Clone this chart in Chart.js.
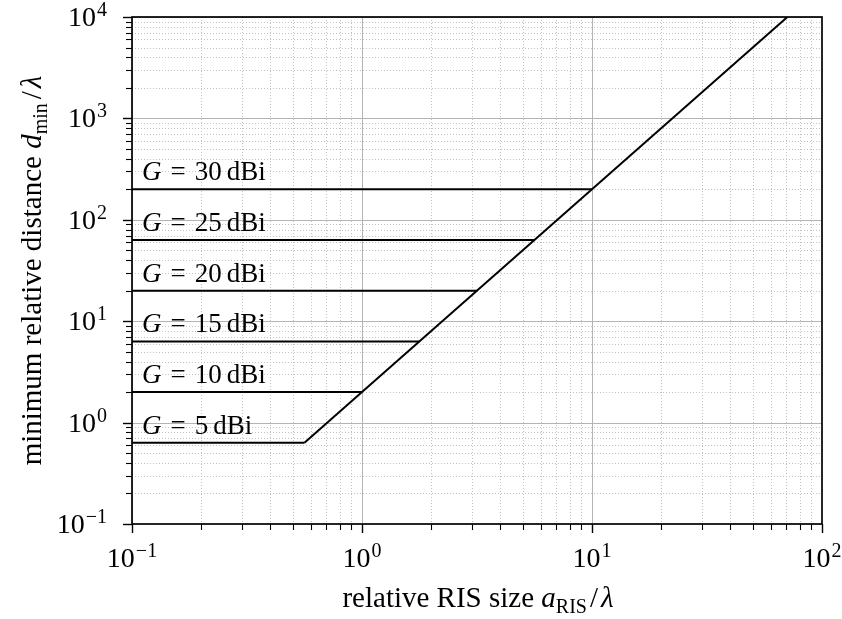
<!DOCTYPE html>
<html>
<head>
<meta charset="utf-8">
<script src="https://cdn.jsdelivr.net/npm/chart.js@4"></script>
<style>
  html, body { margin: 0; padding: 0; background: #fff; }
  #wrap { width: 842px; height: 619px; position: relative; }
</style>
</head>
<body>
<div id="wrap"><canvas id="plot"></canvas></div>
<script>
// gain steps and the distance at which each horizontal limit sits
const gainDbi = [5, 10, 15, 20, 25, 30];
const dMin = [0.632, 2, 6.32, 20, 63.2, 200];
// RIS size where each horizontal limit meets the sloped limit
const aCross = [0.562, 1, 1.78, 3.16, 5.62, 10];
const aStart = 0.1;
// sloped far-field limit (straight on log-log axes)
const slopeA = [0.562, 70.7];
const slopeD = [0.632, 10000];
// axis decades
const xTickExp = [-1, 0, 1, 2];
const yTickExp = [-1, 0, 1, 2, 3, 4];

const SERIF = '"Liberation Serif", "Times New Roman", serif';

function decadeTicks(min, max) {
  const out = [];
  const e0 = Math.floor(Math.log10(min) + 1e-9);
  const e1 = Math.ceil(Math.log10(max) - 1e-9);
  for (let e = e0; e <= e1; e++) {
    for (let m = 1; m < 10; m++) {
      const v = m * Math.pow(10, e);
      if (v >= min * 0.999 && v <= max * 1.001) out.push({ v: v, major: m === 1 });
    }
  }
  return out;
}

// draw a row of text pieces, each with its own font and vertical shift
function drawRuns(ctx, runs, x, y, align) {
  let total = 0;
  runs.forEach(r => {
    ctx.font = r.font;
    r.w = ctx.measureText(r.text).width;
    total += r.w + (r.gap || 0);
  });
  let cx = align === 'center' ? x - total / 2 : (align === 'right' ? x - total : x);
  ctx.textAlign = 'left';
  ctx.textBaseline = 'alphabetic';
  runs.forEach(r => {
    ctx.font = r.font;
    ctx.fillText(r.text, cx, y + (r.dy || 0));
    cx += r.w + (r.gap || 0);
  });
}

function powLabel(ctx, exp, x, y, align) {
  const sup = exp < 0 ? '\u2212' + (-exp) : String(exp);
  drawRuns(ctx, [
    { text: '10', font: '28px ' + SERIF, gap: 1 },
    { text: sup, font: '20px ' + SERIF, dy: -10 }
  ], x, y, align);
}

const axesPlugin = {
  id: 'axesPlugin',
  beforeDatasetsDraw(chart) {
    const { ctx, chartArea: a, scales: { x, y } } = chart;
    ctx.save();
    ctx.beginPath();
    ctx.rect(a.left, a.top, a.right - a.left, a.bottom - a.top);
    ctx.clip();
    ctx.lineWidth = 1;
    // minor grid first, dotted
    ctx.strokeStyle = '#c2c2c2';
    ctx.setLineDash([1, 2]);
    decadeTicks(x.min, x.max).filter(t => !t.major).forEach(t => {
      const px = Math.round(x.getPixelForValue(t.v)) + 0.5;
      ctx.beginPath(); ctx.moveTo(px, a.top); ctx.lineTo(px, a.bottom); ctx.stroke();
    });
    decadeTicks(y.min, y.max).filter(t => !t.major).forEach(t => {
      const py = Math.round(y.getPixelForValue(t.v)) + 0.5;
      ctx.beginPath(); ctx.moveTo(a.left, py); ctx.lineTo(a.right, py); ctx.stroke();
    });
    // major grid, solid
    ctx.setLineDash([]);
    ctx.strokeStyle = '#b4b4b4';
    decadeTicks(x.min, x.max).filter(t => t.major).forEach(t => {
      const px = Math.round(x.getPixelForValue(t.v)) + 0.5;
      ctx.beginPath(); ctx.moveTo(px, a.top); ctx.lineTo(px, a.bottom); ctx.stroke();
    });
    decadeTicks(y.min, y.max).filter(t => t.major).forEach(t => {
      const py = Math.round(y.getPixelForValue(t.v)) + 0.5;
      ctx.beginPath(); ctx.moveTo(a.left, py); ctx.lineTo(a.right, py); ctx.stroke();
    });
    ctx.restore();
  },
  afterDatasetsDraw(chart) {
    const { ctx, chartArea: a, scales: { x, y } } = chart;
    ctx.save();
    ctx.fillStyle = '#000';
    ctx.strokeStyle = '#000';

    // frame
    ctx.lineWidth = 1.7;
    ctx.strokeRect(a.left, a.top, a.right - a.left, a.bottom - a.top);

    // outward ticks
    decadeTicks(x.min, x.max).forEach(t => {
      const px = Math.round(x.getPixelForValue(t.v)) + 0.5;
      ctx.lineWidth = t.major ? 1.4 : 1.1;
      ctx.beginPath(); ctx.moveTo(px, a.bottom); ctx.lineTo(px, a.bottom + (t.major ? 9 : 6)); ctx.stroke();
    });
    decadeTicks(y.min, y.max).forEach(t => {
      const py = Math.round(y.getPixelForValue(t.v)) + 0.5;
      ctx.lineWidth = t.major ? 1.4 : 1.1;
      ctx.beginPath(); ctx.moveTo(a.left, py); ctx.lineTo(a.left - (t.major ? 9 : 6), py); ctx.stroke();
    });

    // tick labels
    xTickExp.forEach(e => powLabel(ctx, e, x.getPixelForValue(Math.pow(10, e)), a.bottom + 43, 'center'));
    yTickExp.forEach(e => powLabel(ctx, e, a.left - 25, y.getPixelForValue(Math.pow(10, e)) + 9, 'right'));

    // axis titles
    drawRuns(ctx, [
      { text: 'relative RIS size ', font: '29px ' + SERIF },
      { text: 'a', font: 'italic 29px ' + SERIF },
      { text: 'RIS', font: '20px ' + SERIF, dy: 6, gap: 3 },
      { text: '/', font: '29px ' + SERIF, gap: 3 },
      { text: '\u03bb', font: 'italic 29px ' + SERIF }
    ], (a.left + a.right) / 2 + 1, a.bottom + 83, 'center');

    ctx.save();
    ctx.translate(41, (a.top + a.bottom) / 2);
    ctx.rotate(-Math.PI / 2);
    drawRuns(ctx, [
      { text: 'minimum relative distance ', font: '29px ' + SERIF },
      { text: 'd', font: 'italic 29px ' + SERIF },
      { text: 'min', font: '20px ' + SERIF, dy: 6, gap: 4 },
      { text: '/', font: '29px ' + SERIF, gap: 3 },
      { text: '\u03bb', font: 'italic 29px ' + SERIF }
    ], 0, 0, 'center');
    ctx.restore();

    // gain labels above each horizontal limit
    gainDbi.forEach((g, i) => {
      const py = y.getPixelForValue(dMin[i]) - 9;
      drawRuns(ctx, [
        { text: 'G', font: 'italic 27px ' + SERIF, gap: 9 },
        { text: '=', font: '27px ' + SERIF, gap: 9 },
        { text: String(g), font: '27px ' + SERIF, gap: 5 },
        { text: 'dBi', font: '27px ' + SERIF }
      ], a.left + 10, py, 'left');
    });
    ctx.restore();
  }
};

const lineStyle = {
  borderColor: '#000',
  borderWidth: 2,
  pointRadius: 0,
  showLine: true,
  fill: false,
  tension: 0
};

const datasets = gainDbi.map((g, i) => Object.assign({
  label: 'G = ' + g + ' dBi',
  data: [{ x: aStart, y: dMin[i] }, { x: aCross[i], y: dMin[i] }]
}, lineStyle));
datasets.push(Object.assign({
  label: 'far-field limit',
  data: slopeA.map((v, i) => ({ x: v, y: slopeD[i] }))
}, lineStyle));

new Chart(document.getElementById('plot'), {
  type: 'scatter',
  data: { datasets: datasets },
  options: {
    responsive: true,
    maintainAspectRatio: false,
    animation: false,
    layout: { padding: { left: 132, right: 20, top: 17, bottom: 95 } },
    plugins: { legend: { display: false }, tooltip: { enabled: false } },
    scales: {
      x: { type: 'logarithmic', min: 0.1, max: 100, display: false },
      y: { type: 'logarithmic', min: 0.1, max: 10000, display: false }
    }
  },
  plugins: [axesPlugin]
});
</script>
</body>
</html>
